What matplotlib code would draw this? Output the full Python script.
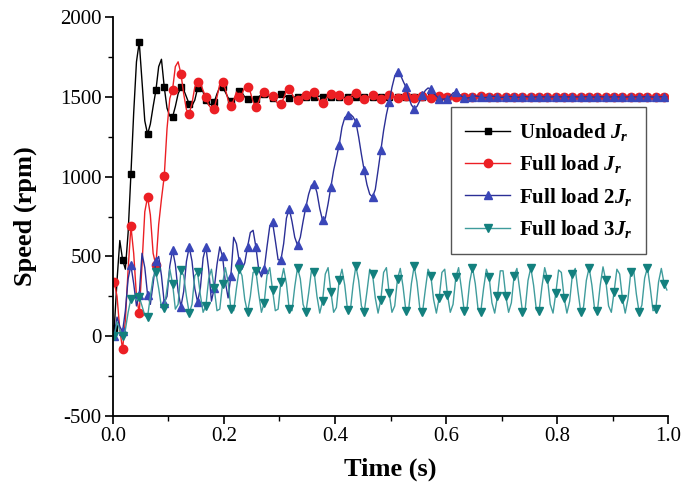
#!/usr/bin/python3

""" plot.py: speed response of the drive for different load / inertia cases """

import numpy as np
import matplotlib
matplotlib.use('Agg')
import matplotlib.pyplot as plt
from matplotlib.ticker import MultipleLocator, FormatStrFormatter

#-----------------------------------------------------------------------
# Sampled speed data (rpm), one sample every 5 ms
dt = 0.005
t0 = 0.0025

unloaded_jr = [
    50, 350, 600, 480, 420, 650, 1015, 1400, 1720, 1844,
    1600, 1350, 1266, 1330, 1440, 1541, 1690, 1736, 1562, 1430,
    1380, 1374, 1440, 1520, 1560, 1545, 1500, 1455, 1445, 1480,
    1554, 1570, 1530, 1480, 1450, 1455, 1468, 1520, 1560, 1562,
    1530, 1495, 1475, 1480, 1510, 1537, 1525, 1500, 1487, 1480,
    1485, 1487, 1500, 1515, 1520, 1512, 1500, 1492, 1490, 1500,
    1520, 1510, 1500, 1495, 1496, 1500, 1500, 1504, 1506, 1502,
    1497, 1495, 1498, 1503, 1505, 1501, 1497, 1496, 1500, 1503,
    1503, 1500, 1497, 1498, 1501, 1503, 1501, 1498, 1498, 1500,
    1502, 1502, 1500, 1498, 1499, 1501, 1502, 1500, 1499, 1499,
    1501, 1501, 1500, 1499, 1500, 1501, 1501, 1500, 1499, 1500,
    1501, 1500, 1499, 1500, 1501, 1501, 1500, 1499, 1499, 1500,
    1501, 1501, 1500, 1499, 1500, 1501, 1500, 1500, 1499, 1500,
    1501, 1501, 1500, 1499, 1500, 1500, 1501, 1500, 1499, 1500,
    1501, 1500, 1500, 1499, 1500, 1501, 1501, 1500, 1499, 1500,
    1500, 1501, 1500, 1499, 1500, 1501, 1500, 1500, 1499, 1500,
    1501, 1500, 1500, 1499, 1500, 1501, 1501, 1500, 1500, 1500,
    1501, 1500, 1499, 1500, 1500, 1501, 1500, 1500, 1499, 1500,
    1501, 1501, 1500, 1499, 1500, 1500, 1501, 1500, 1499, 1500,
    1501, 1500, 1500, 1499, 1500, 1501, 1500, 1500, 1500, 1500,
]

full_jr = [
    340, 250, 40, -81, 100, 420, 690, 520, 250, 144,
    450, 780, 873, 760, 520, 445, 700, 860, 1002, 1300,
    1490, 1546, 1690, 1720, 1646, 1520, 1420, 1395, 1460, 1560,
    1594, 1590, 1540, 1500, 1450, 1425, 1427, 1500, 1580, 1594,
    1550, 1480, 1440, 1480, 1530, 1500, 1520, 1560, 1562, 1530,
    1470, 1437, 1470, 1520, 1531, 1520, 1510, 1504, 1480, 1455,
    1458, 1490, 1540, 1552, 1520, 1485, 1479, 1500, 1512, 1510,
    1515, 1528, 1531, 1505, 1470, 1462, 1480, 1510, 1520, 1518,
    1515, 1514, 1500, 1485, 1483, 1500, 1522, 1525, 1510, 1495,
    1488, 1492, 1505, 1512, 1508, 1498, 1490, 1493, 1503, 1510,
    1506, 1497, 1492, 1496, 1504, 1508, 1503, 1496, 1494, 1499,
    1505, 1506, 1501, 1496, 1496, 1501, 1505, 1503, 1498, 1496,
    1499, 1503, 1504, 1500, 1497, 1498, 1502, 1503, 1500, 1497,
    1498, 1502, 1503, 1500, 1498, 1498, 1501, 1503, 1501, 1498,
    1498, 1501, 1502, 1501, 1498, 1499, 1501, 1502, 1500, 1498,
    1499, 1501, 1502, 1500, 1499, 1499, 1501, 1502, 1500, 1499,
    1499, 1501, 1501, 1500, 1499, 1500, 1501, 1501, 1500, 1499,
    1500, 1501, 1501, 1500, 1499, 1500, 1501, 1501, 1500, 1499,
    1500, 1501, 1500, 1500, 1499, 1500, 1501, 1500, 1500, 1499,
    1500, 1501, 1500, 1500, 1500, 1500, 1501, 1500, 1500, 1500,
]

full_2jr = [
    0, 120, 60, 30, 160, 360, 445, 330, 190, 260,
    520, 430, 260, 200, 330, 470, 500, 380, 210, 250,
    440, 540, 450, 280, 185, 280, 470, 560, 470, 300,
    215, 300, 490, 560, 420, 220, 300, 450, 560, 500,
    340, 240, 380, 620, 580, 470, 420, 460, 560, 650,
    664, 560, 420, 372, 420, 560, 690, 715, 600, 480,
    476, 580, 740, 800, 720, 620, 570, 620, 720, 810,
    890, 945, 957, 900, 800, 727, 740, 830, 935, 1040,
    1120, 1200, 1310, 1370, 1385, 1392, 1375, 1343, 1250, 1140,
    1040, 950, 890, 873, 920, 1040, 1165, 1290, 1390, 1468,
    1560, 1630, 1656, 1640, 1600, 1562, 1500, 1450, 1427, 1440,
    1475, 1510, 1540, 1556, 1550, 1530, 1505, 1490, 1485, 1487,
    1489, 1505, 1525, 1531, 1520, 1505, 1495, 1492, 1496, 1502,
    1506, 1504, 1499, 1496, 1497, 1501, 1504, 1503, 1499, 1497,
    1498, 1501, 1503, 1502, 1499, 1498, 1499, 1501, 1502, 1500,
    1499, 1499, 1500, 1501, 1501, 1500, 1499, 1499, 1500, 1501,
    1501, 1500, 1499, 1500, 1500, 1501, 1500, 1500, 1499, 1500,
    1501, 1500, 1500, 1499, 1500, 1501, 1500, 1500, 1499, 1500,
    1501, 1500, 1500, 1500, 1499, 1500, 1501, 1500, 1500, 1500,
    1500, 1501, 1500, 1500, 1499, 1500, 1500, 1501, 1500, 1500,
]

full_3jr = [
    0, 90, 40, 0, 40, 150, 236, 245, 225, 246,
    190, 130, 121, 250, 370, 400, 300, 180, 175, 300,
    420, 330, 170, 200, 413, 380, 250, 144, 200, 380,
    400, 260, 150, 190, 360, 420, 300, 160, 170, 330,
    430, 340, 170, 160, 300, 420, 380, 230, 150, 250,
    400, 410, 270, 150, 210, 380, 430, 290, 160, 170,
    340, 425, 330, 170, 160, 310, 430, 360, 200, 150,
    270, 410, 400, 250, 145, 220, 390, 430, 280, 150,
    180, 350, 420, 320, 165, 160, 320, 440, 350, 190,
    150, 280, 420, 390, 240, 145, 230, 400, 430, 270,
    150, 190, 360, 425, 310, 160, 165, 330, 440, 340,
    180, 150, 290, 420, 380, 230, 145, 240, 400, 420,
    260, 150, 200, 370, 430, 300, 160, 170, 340, 430,
    330, 170, 155, 300, 420, 370, 210, 145, 250, 410,
    410, 250, 150, 210, 380, 425, 290, 155, 175, 350,
    430, 320, 165, 160, 310, 430, 360, 200, 145, 270,
    415, 400, 240, 145, 220, 390, 425, 280, 150, 185,
    350, 430, 320, 165, 160, 320, 435, 350, 190, 150,
    280, 420, 390, 235, 145, 235, 400, 420, 265, 150,
    195, 365, 430, 305, 160, 170, 340, 425, 330, 290,
]

labels = [r'Unloaded $J_r$', r'Full load $J_r$', r'Full load 2$J_r$', r'Full load 3$J_r$']

#-----------------------------------------------------------------------
plt.rcParams['font.family'] = 'Liberation Serif'
plt.rcParams['mathtext.fontset'] = 'custom'
plt.rcParams['mathtext.it'] = 'Liberation Serif:italic:bold'
plt.rcParams['mathtext.rm'] = 'Liberation Serif:bold'
plt.rcParams['axes.unicode_minus'] = False

t = t0 + dt * np.arange(len(unloaded_jr))

fig = plt.figure(figsize=(6.84, 4.9), dpi=100)
ax = fig.add_axes([0.165, 0.151, 0.812, 0.814])

ax.plot(t, unloaded_jr, color='black', lw=1.0, marker='s', ms=5, markevery=3, label=labels[0])
ax.plot(t, full_jr, color='#ec1f24', lw=1.0, marker='o', ms=6, markevery=3, label=labels[1])
ax.plot(t, full_2jr, color='#2b2f96', lw=1.0, marker='^', ms=6, markevery=3,
        markerfacecolor='#3a46b8', markeredgecolor='#3a46b8', label=labels[2])
ax.plot(t, full_3jr, color='#3f9c9c', lw=1.0, marker='v', ms=6, markevery=3,
        markerfacecolor='#13807e', markeredgecolor='#13807e', label=labels[3])

ax.set_xlim(0, 1.0)
ax.set_ylim(-500, 2000)
ax.xaxis.set_major_locator(MultipleLocator(0.2))
ax.xaxis.set_minor_locator(MultipleLocator(0.1))
ax.yaxis.set_major_locator(MultipleLocator(500))
ax.yaxis.set_minor_locator(MultipleLocator(250))
ax.xaxis.set_major_formatter(FormatStrFormatter('%.1f'))

# Only left / bottom axes like the original
ax.spines['top'].set_visible(False)
ax.spines['right'].set_visible(False)
ax.spines['left'].set_linewidth(1.3)
ax.spines['bottom'].set_linewidth(1.3)
ax.tick_params(which='major', direction='out', length=6, width=1.2, labelsize=15, pad=2)
ax.tick_params(which='minor', direction='out', length=3.5, width=1.0)

ax.set_xlabel('Time (s)', fontsize=19, fontweight='bold', labelpad=8)
ax.set_ylabel('Speed (rpm)', fontsize=19, fontweight='bold', labelpad=17)

leg = ax.legend(loc='upper left', bbox_to_anchor=(0.609, 0.774), borderaxespad=0,
                frameon=True, fancybox=False, edgecolor='#555555', framealpha=1,
                numpoints=1, handlelength=2.2, labelspacing=0.5, borderpad=0.65,
                handletextpad=0.4, prop={'weight': 'bold', 'size': 15})
leg.get_frame().set_linewidth(1.0)

plt.savefig('out.png', dpi=100)
